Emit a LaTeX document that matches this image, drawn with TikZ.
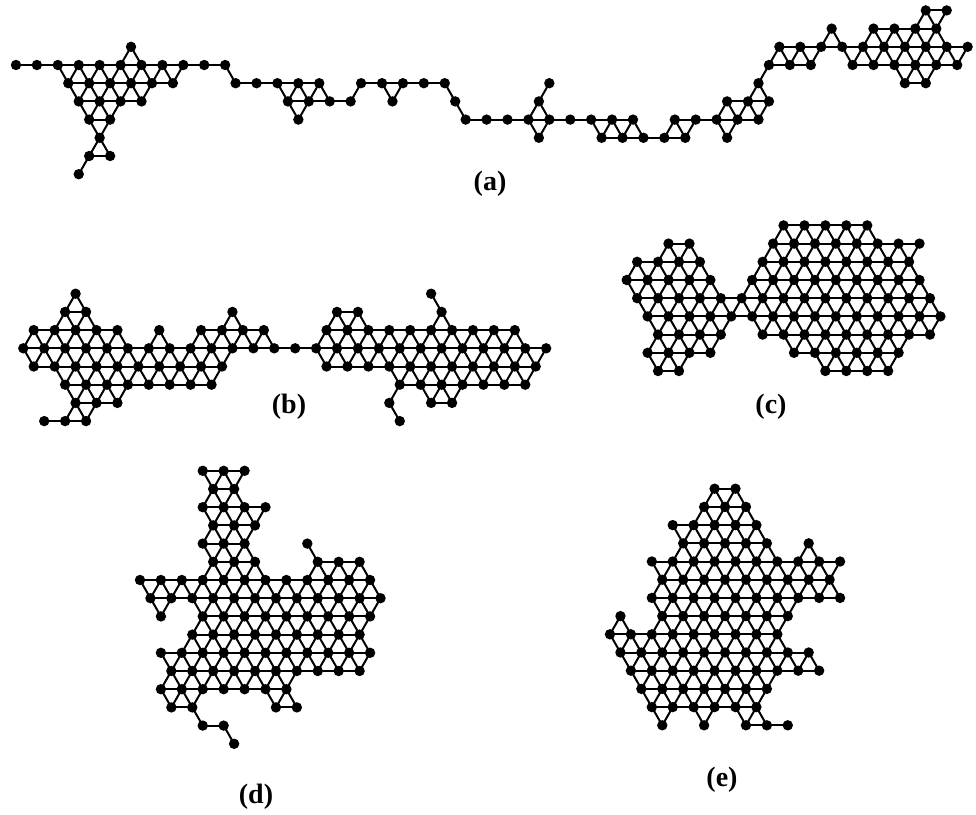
\documentclass[tikz,border=0pt]{standalone}
\usepackage{fontspec}
\setmainfont{Liberation Serif}
\pgfdeclarelayer{bg}
\pgfsetlayers{bg,main}
\tikzset{
  dot/.style={circle, fill=black, draw=none, inner sep=0pt, minimum size=5.2pt},
  bond/.style={line width=1pt, black},
  lbl/.style={font=\fontsize{14}{16}\selectfont\bfseries, inner sep=0pt}
}
\newcommand\latcluster[4]{%
  \foreach \r/\ilist in {#4}{%
    \foreach \i in \ilist{%
      \node[dot] (#1-\i-\r) at ({#2+\i*10.4575},{#3+(\r-10)*18.2}) {};
    }%
  }%
  \begin{pgfonlayer}{bg}
  \foreach \r/\ilist in {#4}{%
    \foreach \i in \ilist{%
      \pgfmathtruncatemacro\ip{\i+2}%
      \pgfmathtruncatemacro\iq{\i+1}%
      \pgfmathtruncatemacro\im{\i-1}%
      \pgfmathtruncatemacro\rp{\r+1}%
      \ifcsname pgf@sh@ns@#1-\ip-\r\endcsname \draw[bond] (#1-\i-\r.center) -- (#1-\ip-\r.center);\fi
      \ifcsname pgf@sh@ns@#1-\iq-\rp\endcsname \draw[bond] (#1-\i-\r.center) -- (#1-\iq-\rp.center);\fi
      \ifcsname pgf@sh@ns@#1-\im-\rp\endcsname \draw[bond] (#1-\i-\r.center) -- (#1-\im-\rp.center);\fi
    }%
  }%
  \end{pgfonlayer}
}
\begin{document}
\begin{tikzpicture}[x=0.5pt,y=-0.5pt]
\begin{pgfonlayer}{bg}
\fill[white] (0,0) rectangle (976,815);
\end{pgfonlayer}
\useasboundingbox (0,0) rectangle (976,815);
% (a)
\latcluster{a}{16}{65}{7/{87,89}, 8/{78,82,84,86,88}, 9/{11,73,75,77,79,81,83,85,87,89,91},
 10/{0,2,4,6,8,10,12,14,16,18,20,72,74,76,80,82,84,86,88,90},
 11/{5,7,9,11,13,15,21,23,25,27,29,33,35,37,39,41,51,71,85,87},
 12/{6,8,10,12,26,28,30,32,36,42,50,68,70,72},
 13/{7,9,27,43,45,47,49,51,53,55,57,59,63,65,67,69,71},
 14/{8,50,56,58,60,62,64,68}, 15/{7,9}, 16/{6}}
% (b)
\latcluster{b}{23.3}{348.3}{7/{5,39}, 8/{4,6,20,30,32,40},
 9/{1,3,5,7,9,13,17,19,21,23,29,31,33,35,37,39,41,43,45,47},
 10/{0,2,...,50},
 11/{1,3,5,7,9,11,13,15,17,19,29,31,33,35,37,39,41,43,45,47,49},
 12/{4,6,8,10,12,14,16,18,36,38,40,42,44,46,48},
 13/{5,7,9,35,39,41}, 14/{2,4,6,36}}
% (c)
\latcluster{c}{626.7}{280}{7/{15,17,19,21,23}, 8/{4,6,14,16,18,20,22,24,26,28},
 9/{1,3,5,7,13,15,17,19,21,23,25,27},
 10/{0,2,4,6,8,12,14,16,18,20,22,24,26,28},
 11/{1,3,...,29}, 12/{2,4,...,30},
 13/{3,5,7,9,13,15,17,19,21,23,25,27,29},
 14/{2,4,6,8,16,18,20,22,24,26}, 15/{3,5,19,21,23,25}}
% (d)
\latcluster{d}{140}{580}{4/{6,8,10}, 5/{7,9}, 6/{6,8,10,12}, 7/{7,9,11}, 8/{6,8,10,16},
 9/{7,9,11,17,19,21}, 10/{0,2,...,22}, 11/{1,3,...,23},
 12/{2,6,8,10,12,14,16,18,20,22}, 13/{5,7,...,21}, 14/{2,4,...,22},
 15/{3,5,...,21}, 16/{2,4,...,14}, 17/{3,5,13,15}, 18/{6,8}, 19/{9}}
% (e)
\latcluster{e}{610}{634.3}{2/{10,12}, 3/{9,11,13}, 4/{6,8,10,12,14}, 5/{7,9,11,13,15,19},
 6/{4,6,...,22}, 7/{5,7,...,21}, 8/{4,6,...,22}, 9/{1,5,7,9,11,13,15,17},
 10/{0,2,...,16}, 11/{1,3,...,19}, 12/{2,4,...,20}, 13/{3,5,...,15},
 14/{4,6,...,14}, 15/{5,9,13,15,17}}
% labels
\node[lbl] (la) at (490,184) {(a)};
\node[lbl] (lb) at (289,407) {(b)};
\node[lbl] (lc) at (771,407) {(c)};
\node[lbl] (ld) at (256,797) {(d)};
\node[lbl] (le) at (722,780) {(e)};
\end{tikzpicture}
\end{document}
